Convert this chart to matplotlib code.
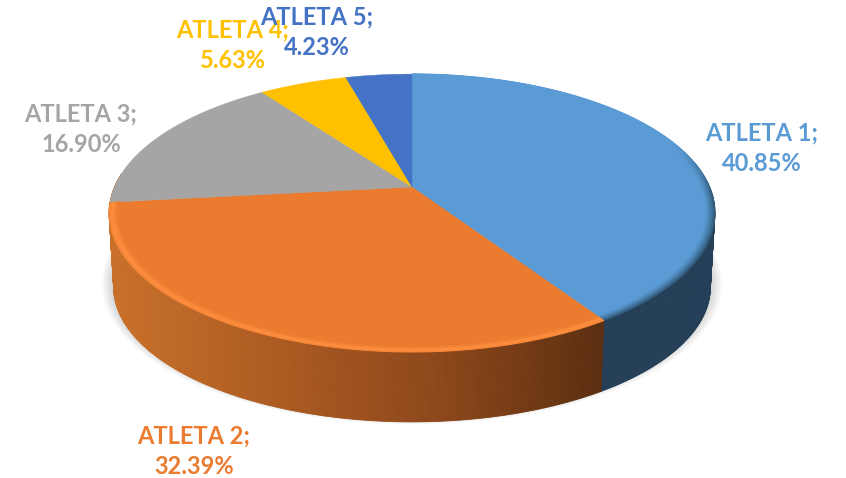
import numpy as np
import matplotlib
matplotlib.use('Agg')
import matplotlib.pyplot as plt
from matplotlib.colors import to_rgb

# data
names = ['ATLETA 1', 'ATLETA 2', 'ATLETA 3', 'ATLETA 4', 'ATLETA 5']
shares = [40.85, 32.39, 16.90, 5.63, 4.23]

# style
colors = ['#5b9bd5', '#ea7b2f', '#a5a5a5', '#ffc000', '#4472c4']
rim_colors = ['#2f5573', '#ff9040', '#a5a5a5', '#ffc000', '#4472c4']
label_pos = [(762, 148), (194, 451), (81, 129), (233, 45), (317, 32)]

# projection of the pie disc, pixels
cx, cy = 412, 187
a, b, k = 297.5, 134, 0.187


def project(theta, r=1.0, a_=a, b_=b, dy=0):
    u = r * np.sin(theta)
    v = r * np.cos(theta)
    den = 1 + k * v
    return cx + a_ * u / den, cy + dy - b_ * v / den


def blend(c1, c2, t):
    c1, c2 = np.array(to_rgb(c1)), np.array(to_rgb(c2))
    return tuple(c1 + (c2 - c1) * t)


def wall_color(x, idx):
    if idx == 0:
        return '#243f57'
    stops_x = [115, 300, 450, 600]
    r = np.interp(x, stops_x, [0xc8, 0xa8, 0x8a, 0x5c]) / 255
    g = np.interp(x, stops_x, [0x70, 0x58, 0x46, 0x2f]) / 255
    bl = np.interp(x, stops_x, [0x2a, 0x20, 0x1a, 0x10]) / 255
    return (r, g, bl)


fig = plt.figure(figsize=(8.46, 4.78), dpi=100)
ax = fig.add_axes([0, 0, 1, 1])
ax.set_xlim(0, 846)
ax.set_ylim(478, 0)
ax.axis('off')

edges = np.radians(np.concatenate([[0], np.cumsum(shares)]) / sum(shares) * 360)
a_low, b_low, depth = a * 0.985, b * 0.97, 75

# soft shadow under the pie
th = np.linspace(0, 2 * np.pi, 361)
for grow in np.linspace(1.04, 1.0, 10):
    sx, sy = project(th, 1.0, a_low * grow, b_low * grow, depth - 4)
    ax.fill(sx, sy, color='#000000', alpha=0.018, lw=0, zorder=1)

# side wall, only the two front slices show one
# the orange one runs on a bit to close the left silhouette
for i in [0, 1]:
    t0, t1 = edges[i], edges[i + 1]
    if i == 1:
        t1 = t1 + np.radians(12)
    steps = np.arange(t0, t1, np.radians(0.5))
    steps = np.append(steps, t1)
    for s0, s1 in zip(steps[:-1], steps[1:]):
        if np.cos((s0 + s1) / 2) > 0.2:
            continue
        x0, y0 = project(s0)
        x1, y1 = project(s1)
        x2, y2 = project(s1, 1.0, a_low, b_low, depth)
        x3, y3 = project(s0, 1.0, a_low, b_low, depth)
        c = wall_color((x0 + x1) / 2, i)
        ax.fill([x0, x1, x2, x3], [y0, y1, y2, y3], facecolor=c, edgecolor=c, lw=0.6, zorder=2)

# top face
for i in range(len(shares)):
    t = np.linspace(edges[i], edges[i + 1], 200)
    px, py = project(t)
    ax.fill(np.r_[cx, px], np.r_[cy, py], facecolor=colors[i], edgecolor=colors[i], lw=0.3, zorder=3)

# bevel along the front edge
rings = np.linspace(1.0, 0.968, 14)
for i in [0, 1]:
    t = np.linspace(edges[i], edges[i + 1], 160)
    for r in rings:
        pos = min((1.0 - r) / 0.032, 1.0)
        if i == 0:
            strength = (1 - pos) ** 1.3
        else:
            strength = 1 - abs(pos - 0.35) / 0.65
        for t0, t1 in zip(t[:-1], t[1:]):
            fade = np.clip((0.35 - np.cos(t0)) / 0.4, 0, 1)
            c = blend(colors[i], rim_colors[i], strength * fade)
            x, y = project(np.array([t0, t1]), r)
            ax.plot(x, y, color=c, lw=1.0, solid_capstyle='butt', zorder=4)

# labels
for name, val, col, pos in zip(names, shares, colors, label_pos):
    ax.text(pos[0], pos[1], f'{name};\n{val:.2f}%', color=col, ha='center', va='center',
            family='Lato', weight='bold', fontsize=17, linespacing=1.38, zorder=5)

fig.savefig('out.png', dpi=100)
